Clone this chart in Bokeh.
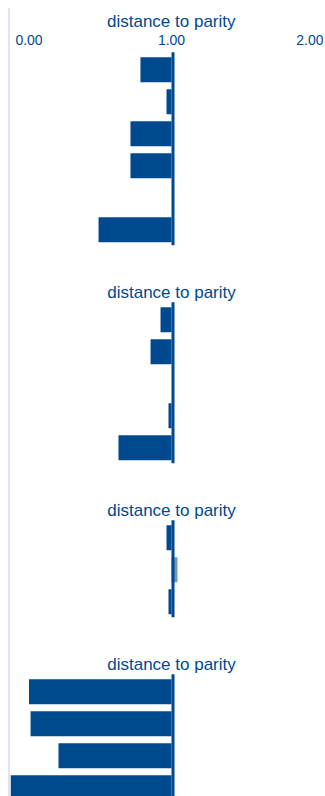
from bokeh.plotting import figure
from bokeh.models import Range1d, FixedTicker, NumeralTickFormatter, ColumnDataSource
from bokeh.embed import file_html
from bokeh.resources import INLINE
from bokeh.core.properties import value

# ---- data ----
TITLE = "distance to parity"
TICKS = [0, 1, 2]
PARITY = 1.0
panel1 = [0.782, 0.965, 0.712, 0.712, 1.0, 0.488]
panel2 = [0.923, 0.853, 1.0, 0.979, 0.628]
panel3 = [0.965, 1.042, 0.979]
panel4 = [0.0, 0.011, 0.207, -0.16]
panels = [panel1, panel2, panel3, panel4]

# ---- style ----
DARK = "#00498f"
LIGHT = "#7096c6"
RULE = "#dde6f1"
FONT = "Liberation Sans"

W, H = 315, 788
TOP = 40
PX_PER_UNIT = 142.5
X_START = (10 - 28.5) / PX_PER_UNIT
X_END = X_START + W / PX_PER_UNIT

# vertical layout (y units = page pixels)
ROW = 32.0
BAR_H = 25.0
GAP = 90.0
FIRST = 69.2
Y_TOP = 8 + TOP
Y_BOTTOM = 8 + H

p = figure(width=W, height=H, output_backend="svg", toolbar_location=None,
           x_range=Range1d(X_START, X_END), y_range=Range1d(Y_BOTTOM, Y_TOP),
           x_axis_location="above", y_axis_location=None,
           min_border_left=0, min_border_right=0, min_border_top=TOP,
           min_border_bottom=0, outline_line_color=None,
           background_fill_color="white", border_fill_color="white",
           title=TITLE)
p.styles = {"border-left": f"2px solid {RULE}",
            "margin-left": "8px", "margin-top": "8px"}

p.title.align = "right"
p.title.offset = 90
p.title.text_font = FONT
p.title.text_font_size = "17px"
p.title.text_font_style = "normal"
p.title.text_color = DARK
p.title.standoff = 2

ax = p.xaxis[0]
ax.ticker = FixedTicker(ticks=TICKS)
ax.formatter = NumeralTickFormatter(format="0.00")
ax.axis_line_color = None
ax.major_tick_line_color = None
ax.minor_tick_line_color = None
ax.major_tick_out = 0
ax.major_tick_in = 0
ax.major_label_standoff = 4
ax.major_label_text_font = FONT
ax.major_label_text_font_size = "14px"
ax.major_label_text_color = DARK
p.xgrid.visible = False
p.ygrid.visible = False

ys, lefts, rights, colors = [], [], [], []
seg_top, seg_bot, title_y = [], [], []
start = FIRST
for k, vals in enumerate(panels):
    for i, v in enumerate(vals):
        ys.append(start + i * ROW)
        lefts.append(min(v, PARITY))
        rights.append(max(v, PARITY))
        colors.append(DARK if v <= PARITY else LIGHT)
    last = start + (len(vals) - 1) * ROW
    seg_top.append(start - 17.5)
    seg_bot.append(last + 15.5)
    if k > 0:
        title_y.append(start - 27)
    start = last + GAP

src = ColumnDataSource(dict(y=ys, left=lefts, right=rights, color=colors))
p.hbar(y="y", left="left", right="right", height=BAR_H, fill_color="color",
       line_color=None, source=src)

px = 1.0 / PX_PER_UNIT
p.segment(x0=[PARITY + 1.5 * px] * len(seg_top), y0=seg_top,
          x1=[PARITY + 1.5 * px] * len(seg_top), y1=seg_bot,
          line_width=3, line_color=DARK, line_cap="butt")

p.text(x=[PARITY] * len(title_y), y=title_y, text=[TITLE] * len(title_y),
       text_align="center", text_baseline="alphabetic",
       text_font=value(FONT), text_font_size="17px", text_color=DARK)

open("out.html", "w").write(file_html(p, INLINE))
